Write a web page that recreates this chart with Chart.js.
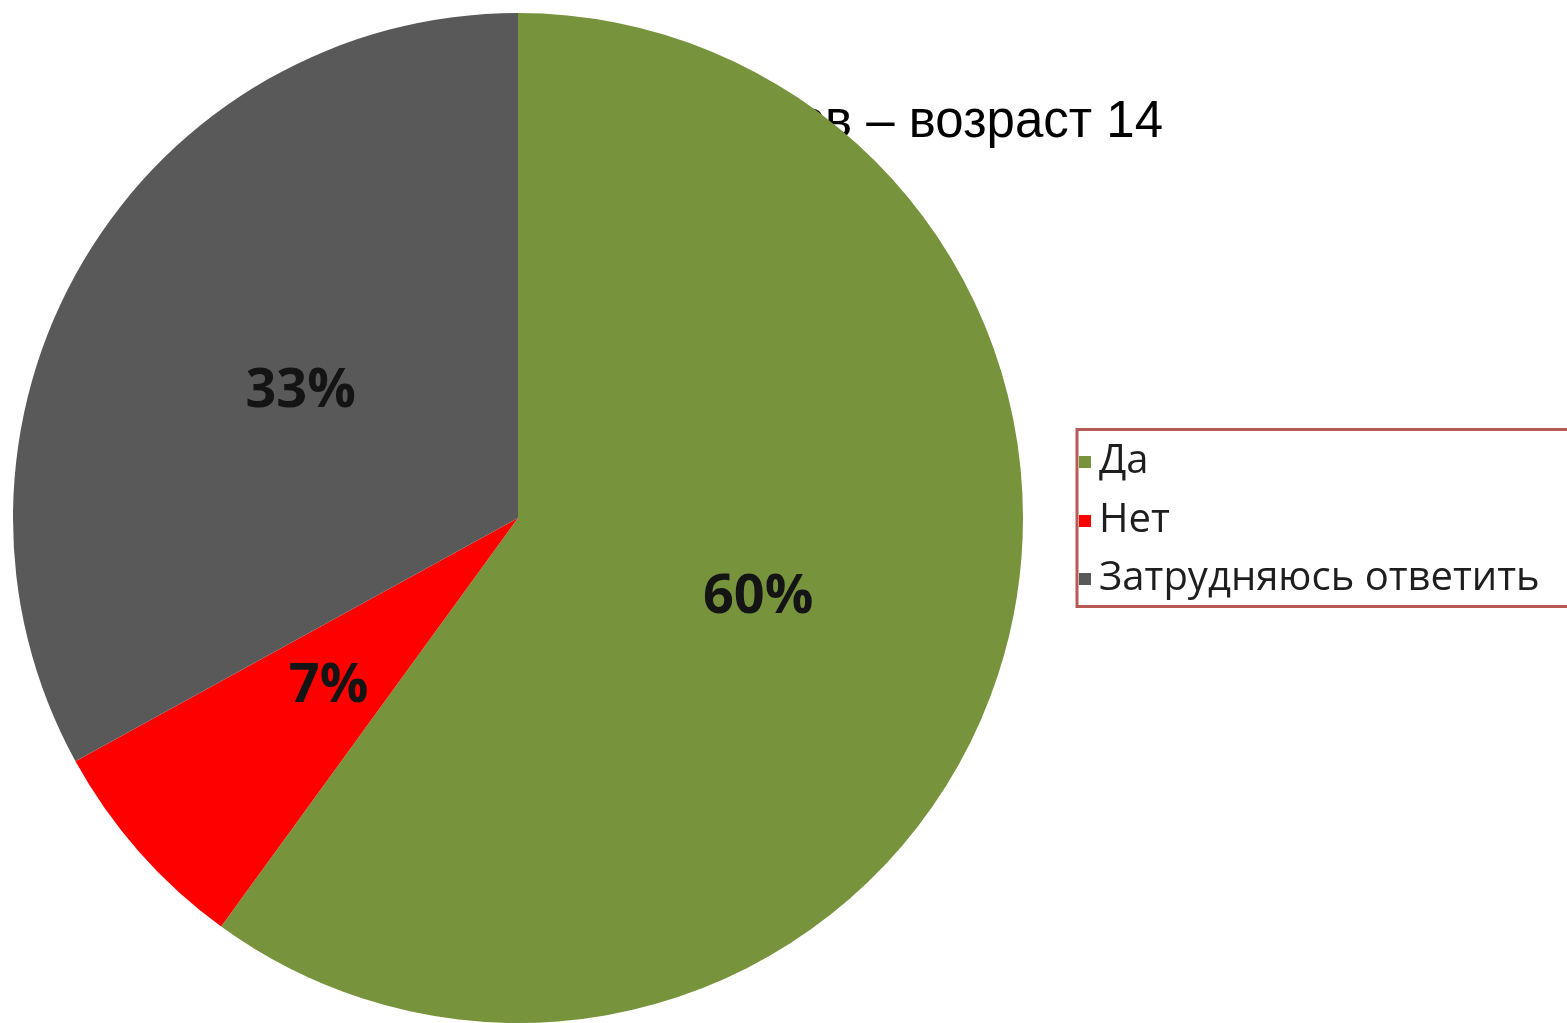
<!DOCTYPE html>
<html><head><meta charset="utf-8">
<script src="https://cdn.jsdelivr.net/npm/chart.js@4/dist/chart.umd.min.js"></script>
<style>html,body{margin:0;padding:0;background:#fff;overflow:hidden}#wrap{width:1567px;height:1023px;position:relative}</style>
</head><body><div id="wrap"><canvas id="c" width="1567" height="1023"></canvas></div>
<script>
const categories = ["Да", "Нет", "Затрудняюсь ответить"];
const values = [60, 7, 33];
const valueLabels = ["60%", "7%", "33%"];
const colors = ["#77933C", "#FF0000", "#595959"];
const titleText = "Опрос учеников – возраст 14";

const titleBehind = {
  id: 'titleBehind',
  beforeDatasetsDraw(chart) {
    const ctx = chart.ctx;
    ctx.save();
    ctx.font = '51px "Liberation Sans", Arial, sans-serif';
    ctx.fillStyle = '#000';
    ctx.textAlign = 'right';
    ctx.textBaseline = 'alphabetic';
    ctx.fillText(titleText, 1163, 137);
    ctx.restore();
  }
};

const sliceLabels = {
  id: 'sliceLabels',
  afterDatasetsDraw(chart) {
    const ctx = chart.ctx;
    const meta = chart.getDatasetMeta(0);
    ctx.save();
    ctx.font = 'bold 54px "Open Sans", sans-serif';
    ctx.fillStyle = '#141414';
    ctx.textAlign = 'center';
    ctx.textBaseline = 'middle';
    meta.data.forEach((arc, i) => {
      const p = arc.tooltipPosition();
      ctx.fillText(valueLabels[i], p.x, p.y + 2);
    });
    ctx.restore();
  }
};

const boxLegend = {
  id: 'boxLegend',
  afterDraw(chart) {
    const ctx = chart.ctx;
    ctx.save();
    ctx.strokeStyle = '#B85B57';
    ctx.lineWidth = 3;
    ctx.strokeRect(1077, 429.5, 500, 177);
    ctx.font = '40px "Open Sans", sans-serif';
    ctx.textAlign = 'left';
    ctx.textBaseline = 'middle';
    const ys = [462, 521, 579];
    categories.forEach((c, i) => {
      ctx.fillStyle = colors[i];
      ctx.fillRect(1079, ys[i] - 6, 12, 12);
      ctx.fillStyle = '#1e1e1e';
      ctx.fillText(c, 1099, ys[i]);
    });
    ctx.restore();
  }
};

new Chart(document.getElementById('c'), {
  type: 'pie',
  data: {
    labels: categories,
    datasets: [{ data: values, backgroundColor: colors, borderWidth: 0 }]
  },
  options: {
    responsive: false,
    animation: false,
    layout: { padding: { left: 13, top: 13, right: 544, bottom: 0 } },
    plugins: { legend: { display: false }, tooltip: { enabled: false }, title: { display: false } }
  },
  plugins: [titleBehind, sliceLabels, boxLegend]
});
</script></body></html>
